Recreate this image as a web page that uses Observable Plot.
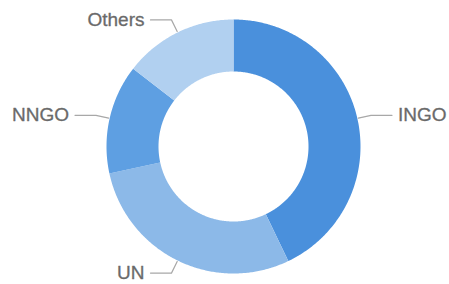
<!DOCTYPE html>
<html>
<head>
<meta charset="utf-8">
<script src="https://cdn.jsdelivr.net/npm/d3@7"></script>
<script src="https://cdn.jsdelivr.net/npm/@observablehq/plot@0.6"></script>
<style>
  html, body { margin: 0; padding: 0; background: #fff; }
  #chart svg { display: block; }
</style>
</head>
<body>
<div id="chart"></div>
<script>
// Data (share of total)
const categories = ["INGO", "UN", "NNGO", "Others"];
const values = [42.9, 28.7, 13.9, 14.5];
const colors = ["#4a90dc", "#8cb9e8", "#5e9fe2", "#b1d0f0"];

// Geometry (pixel units in data space)
const W = 449, H = 284;
const cx = 233, cy = 146;
const rOuter = 127, rInner = 75, rLabel = 141, hook = 21, gap = 6;

const pie = d3.pie().sort(null).value(d => d.value)(
  categories.map((name, i) => ({name, value: values[i], color: colors[i]}))
);

const pt = (r, a) => ({x: r * Math.sin(a), y: r * Math.cos(a)});

// Slice polygons
const slices = [];
for (const s of pie) {
  const n = Math.max(2, Math.ceil((s.endAngle - s.startAngle) / 0.01));
  const pts = [];
  for (let k = 0; k <= n; k++) pts.push(pt(rOuter, s.startAngle + (s.endAngle - s.startAngle) * k / n));
  for (let k = n; k >= 0; k--) pts.push(pt(rInner, s.startAngle + (s.endAngle - s.startAngle) * k / n));
  for (const p of pts) slices.push({...p, name: s.data.name, color: s.data.color});
}

// Leader lines and labels
const leaders = [];
const labels = [];
for (const s of pie) {
  const a = (s.startAngle + s.endAngle) / 2;
  const right = Math.sin(a) > 0;
  const p0 = pt(rOuter + 1, a);
  const p1 = pt(rLabel, a);
  const p2 = {x: p1.x + (right ? hook : -hook), y: p1.y};
  for (const p of [p0, p1, p2]) leaders.push({...p, name: s.data.name});
  labels.push({x: p2.x + (right ? gap : -gap), y: p2.y, text: s.data.name, right});
}

const font = "Liberation Sans, Arial, sans-serif";
const chart = Plot.plot({
  width: W,
  height: H,
  margin: 0,
  x: {domain: [-cx, W - cx], axis: null},
  y: {domain: [cy - H, cy], axis: null},
  style: {background: "#fff"},
  marks: [
    Plot.line(slices, {x: "x", y: "y", z: "name", fill: "color", stroke: "none", curve: "linear"}),
    Plot.line(leaders, {x: "x", y: "y", z: "name", stroke: "#a8a8a8", strokeWidth: 1.2, curve: "linear"}),
    Plot.text(labels.filter(d => d.right), {x: "x", y: "y", text: "text", textAnchor: "start", fill: "#6a6a6a", fontSize: 19, fontFamily: font, stroke: "#6a6a6a", strokeWidth: 0.3}),
    Plot.text(labels.filter(d => !d.right), {x: "x", y: "y", text: "text", textAnchor: "end", fill: "#6a6a6a", fontSize: 19, fontFamily: font, stroke: "#6a6a6a", strokeWidth: 0.3})
  ]
});
document.getElementById("chart").append(chart);
</script>
</body>
</html>
